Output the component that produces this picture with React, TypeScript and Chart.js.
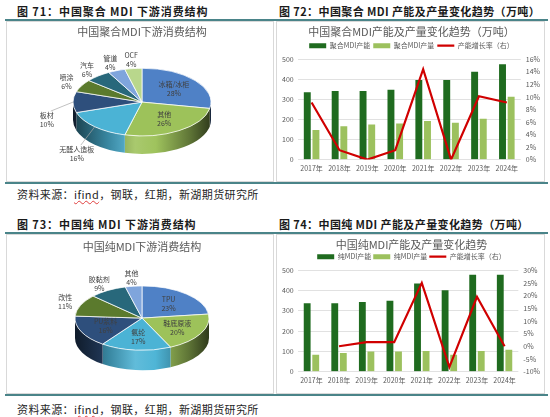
import React, { useEffect, useRef } from "react";
import { Chart, registerables } from "chart.js";

Chart.register(...registerables);

// ---------- data ----------
const years = ["2017年", "2018年", "2019年", "2020年", "2021年", "2022年", "2023年", "2024年"];

const polyCapacity = [335, 342, 342, 348, 396, 396, 437, 475];
const polyOutput = [147, 166, 175, 180, 192, 183, 204, 313];
const polyGrowth = [9.1, 1.5, 0, 1.5, 14.4, 0, 10.1, 9.1];

const pureCapacity = [337, 337, 343, 349, 435, 401, 477, 477];
const pureOutput = [83, 92, 99, 99, 102, 83, 102, 108];
const pureGrowth = [null, 0, 1.6, 1.6, 25.0, -8.2, 19.5, 0];

const polyUseLabels = ["冰箱/冰柜", "其他", "无醛人造板", "板材", "喷涂", "汽车", "管道", "OCF"];
const polyUseShares = [28, 26, 16, 10, 6, 6, 4, 4];

const pureUseLabels = ["TPU", "鞋底原液", "氨纶", "PU浆料", "改性", "胶黏剂", "其他"];
const pureUseShares = [23, 20, 17, 16, 11, 9, 4];

const polyBarNames = ["聚合MDI产能", "聚合MDI产量", "产能增长率（右）"];
const pureBarNames = ["纯MDI产能", "纯MDI产量", "产能增长率（右）"];

// ---------- styles ----------
const FONT = '"Noto Sans CJK SC", "Noto Sans", sans-serif';
const SLICE_COLORS = ["#4F81C6", "#9DC25A", "#4BB3D5", "#2E4F7C", "#5B7A2D", "#28687B", "#7FA5DC", "#B9D78C"];
const DARK = "#1F6B1F";
const LIGHT = "#9CC15E";
const RED = "#D00000";
const TEAL = "#4A8489";

function shade(hex: string, f: number) {
  const n = parseInt(hex.slice(1), 16);
  const r = (n >> 16) & 255, g = (n >> 8) & 255, b = n & 255;
  const adj = (c: number) => (f <= 1 ? Math.round(c * f) : Math.round(c + (255 - c) * (f - 1)));
  return `rgb(${adj(r)},${adj(g)},${adj(b)})`;
}

function visibleRanges(s: number, e: number) {
  const out: number[][] = [];
  const ivs = [[0, Math.PI], [2 * Math.PI, 3 * Math.PI]];
  for (const [a, b] of ivs) {
    const lo = Math.max(s, a), hi = Math.min(e, b);
    if (hi > lo) out.push([lo, hi]);
  }
  return out;
}

function makePie3d(depth: number, k: number, insideMin: number) {
  return {
    id: "pie3d",
    beforeDatasetsDraw(chart: any) {
      const ctx = chart.ctx;
      const arcs = chart.getDatasetMeta(0).data as any[];
      if (!arcs.length) return;
      const cx = arcs[0].x, cy = arcs[0].y, R = arcs[0].outerRadius;
      const ry = R * k;
      const colors = chart.data.datasets[0].backgroundColor as string[];
      arcs.forEach((a: any, i: number) => {
        const col = colors[i];
        visibleRanges(a.startAngle, a.endAngle).forEach(([s, e]) => {
          const g = ctx.createLinearGradient(cx - R, 0, cx + R, 0);
          g.addColorStop(0, shade(col, 0.35));
          g.addColorStop(0.25, shade(col, 0.75));
          g.addColorStop(0.45, shade(col, 1.12));
          g.addColorStop(0.6, shade(col, 1.02));
          g.addColorStop(0.85, shade(col, 0.6));
          g.addColorStop(1, shade(col, 0.3));
          ctx.beginPath();
          ctx.ellipse(cx, cy, R, ry, 0, s, e, false);
          ctx.ellipse(cx, cy + depth, R, ry, 0, e, s, true);
          ctx.closePath();
          ctx.fillStyle = g;
          ctx.fill();
        });
      });
      ctx.save();
      ctx.translate(cx, cy);
      ctx.scale(1, k);
      ctx.translate(-cx, -cy);
    },
    afterDatasetsDraw(chart: any) {
      chart.ctx.restore();
    },
    afterDraw(chart: any) {
      const ctx = chart.ctx;
      const arcs = chart.getDatasetMeta(0).data as any[];
      if (!arcs.length) return;
      const cx = arcs[0].x, cy = arcs[0].y, R = arcs[0].outerRadius;
      const labels = chart.data.labels as string[];
      const vals = chart.data.datasets[0].data as number[];
      ctx.save();
      ctx.font = `7px ${FONT}`;
      ctx.textAlign = "center";
      ctx.textBaseline = "middle";
      arcs.forEach((a: any, i: number) => {
        const m = (a.startAngle + a.endAngle) / 2;
        const c = Math.cos(m), s = Math.sin(m);
        let x: number, y: number;
        if (vals[i] >= insideMin) {
          const r = 0.6 * R;
          x = cx + r * c;
          y = cy + r * s * k;
        } else if (s > -0.2) {
          const r = 1.38 * R;
          x = cx + r * c;
          y = cy + r * s * k + depth;
          ctx.strokeStyle = "#A6A6A6";
          ctx.lineWidth = 0.7;
          ctx.beginPath();
          ctx.moveTo(x + 4, y - 9);
          ctx.lineTo(cx + R * c, cy + R * s * k);
          ctx.stroke();
        } else {
          const r = 1.25 * R;
          x = cx + r * c;
          y = cy + r * s * k;
        }
        ctx.fillStyle = "#404040";
        ctx.fillText(labels[i], x, y - 4.5);
        ctx.fillText(vals[i] + "%", x, y + 4.5);
      });
      ctx.restore();
    },
  };
}

function pieConfig(title: string, labels: string[], shares: number[], radius: number, pad: any, titlePad: any, depth: number, k: number, insideMin: number) {
  return {
    type: "pie",
    data: {
      labels,
      datasets: [
        {
          data: shares,
          backgroundColor: SLICE_COLORS.slice(0, shares.length),
          borderColor: "#ffffff",
          borderWidth: 1,
          radius,
        },
      ],
    },
    options: {
      animation: false,
      responsive: false,
      events: [],
      layout: { padding: pad },
      plugins: {
        legend: { display: false },
        tooltip: { enabled: false },
        title: {
          display: true,
          text: title,
          color: "#595959",
          font: { size: 11, family: FONT, weight: "normal" },
          padding: titlePad,
        },
      },
    },
    plugins: [makePie3d(depth, k, insideMin)],
  };
}

function barConfig(title: string, names: string[], cap: number[], out: number[], growth: (number | null)[], yMin: number, yMax: number, yStep: number, titlePad: any, legendPad: number) {
  return {
    type: "bar",
    data: {
      labels: years,
      datasets: [
        {
          type: "bar",
          label: names[0],
          data: cap,
          backgroundColor: DARK,
          borderWidth: 0,
          yAxisID: "y",
          order: 2,
          pointStyle: "rect",
          categoryPercentage: 0.62,
          barPercentage: 0.8,
        },
        {
          type: "bar",
          label: names[1],
          data: out,
          backgroundColor: LIGHT,
          borderWidth: 0,
          yAxisID: "y",
          order: 2,
          pointStyle: "rect",
          categoryPercentage: 0.62,
          barPercentage: 0.8,
        },
        {
          type: "line",
          label: names[2],
          data: growth,
          borderColor: RED,
          backgroundColor: RED,
          borderWidth: 2.2,
          pointRadius: 0,
          pointStyle: "line",
          tension: 0,
          yAxisID: "y1",
          order: 1,
        },
      ],
    },
    options: {
      animation: false,
      responsive: false,
      events: [],
      layout: { padding: { left: 2, right: 0, top: 0, bottom: 4 } },
      plugins: {
        tooltip: { enabled: false },
        title: {
          display: true,
          text: title,
          color: "#595959",
          font: { size: 11, family: FONT, weight: "normal" },
          padding: titlePad,
        },
        legend: {
          display: true,
          labels: {
            usePointStyle: true,
            pointStyleWidth: 17,
            boxHeight: 5,
            padding: legendPad,
            color: "#595959",
            font: { size: 7, family: FONT },
            sort: (a: any, b: any) => a.datasetIndex - b.datasetIndex,
          },
        },
      },
      scales: {
        x: {
          grid: { display: false, drawTicks: false },
          border: { display: false },
          ticks: { color: "#595959", font: { size: 7, family: FONT }, padding: 5, maxRotation: 0 },
        },
        y: {
          position: "left",
          min: 0,
          max: 500,
          ticks: { stepSize: 100, color: "#595959", font: { size: 7, family: FONT }, padding: 4 },
          grid: { color: "#D9D9D9", lineWidth: 0.8, drawTicks: false },
          border: { display: false },
        },
        y1: {
          position: "right",
          min: yMin,
          max: yMax,
          ticks: {
            stepSize: yStep,
            color: "#595959",
            font: { size: 7, family: FONT },
            padding: 5,
            callback: (v: any) => v + "%",
          },
          grid: { display: false, drawTicks: false },
          border: { display: false },
        },
      },
    },
  };
}

function ChartBox({ config, width, height, style }: any) {
  const ref = useRef<HTMLCanvasElement | null>(null);
  useEffect(() => {
    if (!ref.current) return;
    const chart = new Chart(ref.current, config);
    return () => chart.destroy();
  }, []);
  return (
    <canvas
      ref={ref}
      width={width}
      height={height}
      style={{ position: "absolute", width, height, ...style }}
    />
  );
}

const titleStyle: any = {
  position: "absolute",
  fontFamily: FONT,
  fontWeight: 700,
  fontSize: 11,
  lineHeight: "14px",
  letterSpacing: "0.9px",
  color: "#1a1a1a",
  whiteSpace: "nowrap",
};

const sourceStyle: any = {
  position: "absolute",
  left: 17,
  fontFamily: FONT,
  fontSize: 11,
  lineHeight: "14px",
  letterSpacing: "0.4px",
  color: "#262626",
  whiteSpace: "nowrap",
};

function Source({ top }: { top: number }) {
  return (
    <div style={{ ...sourceStyle, top }}>
      资料来源：
      <span style={{ textDecoration: "underline wavy #E04040", textDecorationThickness: "0.5px" }}>ifind</span>
      ，钢联，红期，新湖期货研究所
    </div>
  );
}

function Line({ top }: { top: number }) {
  return <div style={{ position: "absolute", left: 5, top, width: 543, height: 2, background: TEAL }} />;
}

function Frame({ left, top, width, height }: any) {
  return (
    <div
      style={{
        position: "absolute",
        left,
        top,
        width: width - 2,
        height: height - 2,
        border: "1px solid #D9D9D9",
      }}
    />
  );
}

export default function App() {
  const pie71 = pieConfig("中国聚合MDI下游消费结构", polyUseLabels, polyUseShares, 69, { left: 4, right: 0, top: 0, bottom: 19 }, { top: 4, bottom: 3 }, 18, 0.49, 20);
  const pie73 = pieConfig("中国纯MDI下游消费结构", pureUseLabels, pureUseShares, 67, { left: 4, right: 0, top: 0, bottom: 14 }, { top: 6, bottom: 3 }, 20, 0.48, 15);
  const bar72 = barConfig("中国聚合MDI产能及产量变化趋势（万吨）", polyBarNames, polyCapacity, polyOutput, polyGrowth, 0, 16, 2, { top: 4, bottom: 1 }, 3);
  const bar74 = barConfig("中国纯MDI产能及产量变化趋势", pureBarNames, pureCapacity, pureOutput, pureGrowth, -10, 30, 5, { top: 4, bottom: 0 }, 2);

  const rightTitle = { ...titleStyle, letterSpacing: "0.4px" };

  return (
    <div style={{ position: "fixed", left: 0, top: 0, width: 550, height: 417, background: "#fff", overflow: "hidden" }}>
      <div style={{ ...titleStyle, left: 17, top: 4 }}>图 71：中国聚合 MDI 下游消费结构</div>
      <div style={{ ...rightTitle, left: 279, top: 4 }}>图 72：中国聚合 MDI 产能及产量变化趋势（万吨）</div>
      <Line top={19} />
      <Frame left={6} top={21} width={268} height={161} />
      <Frame left={276} top={21} width={269} height={161} />
      <ChartBox config={pie71} width={268} height={161} style={{ left: 6, top: 21 }} />
      <ChartBox config={bar72} width={269} height={161} style={{ left: 276, top: 21 }} />
      <Line top={182} />
      <Source top={187} />

      <div style={{ ...titleStyle, left: 17, top: 217 }}>图 73：中国纯 MDI 下游消费结构</div>
      <div style={{ ...rightTitle, left: 279, top: 217 }}>图 74：中国纯 MDI 产能及产量变化趋势（万吨）</div>
      <Line top={232} />
      <Frame left={6} top={234} width={268} height={160} />
      <Frame left={276} top={234} width={269} height={160} />
      <ChartBox config={pie73} width={268} height={160} style={{ left: 6, top: 234 }} />
      <ChartBox config={bar74} width={269} height={160} style={{ left: 276, top: 234 }} />
      <Line top={394} />
      <Source top={402} />
    </div>
  );
}
